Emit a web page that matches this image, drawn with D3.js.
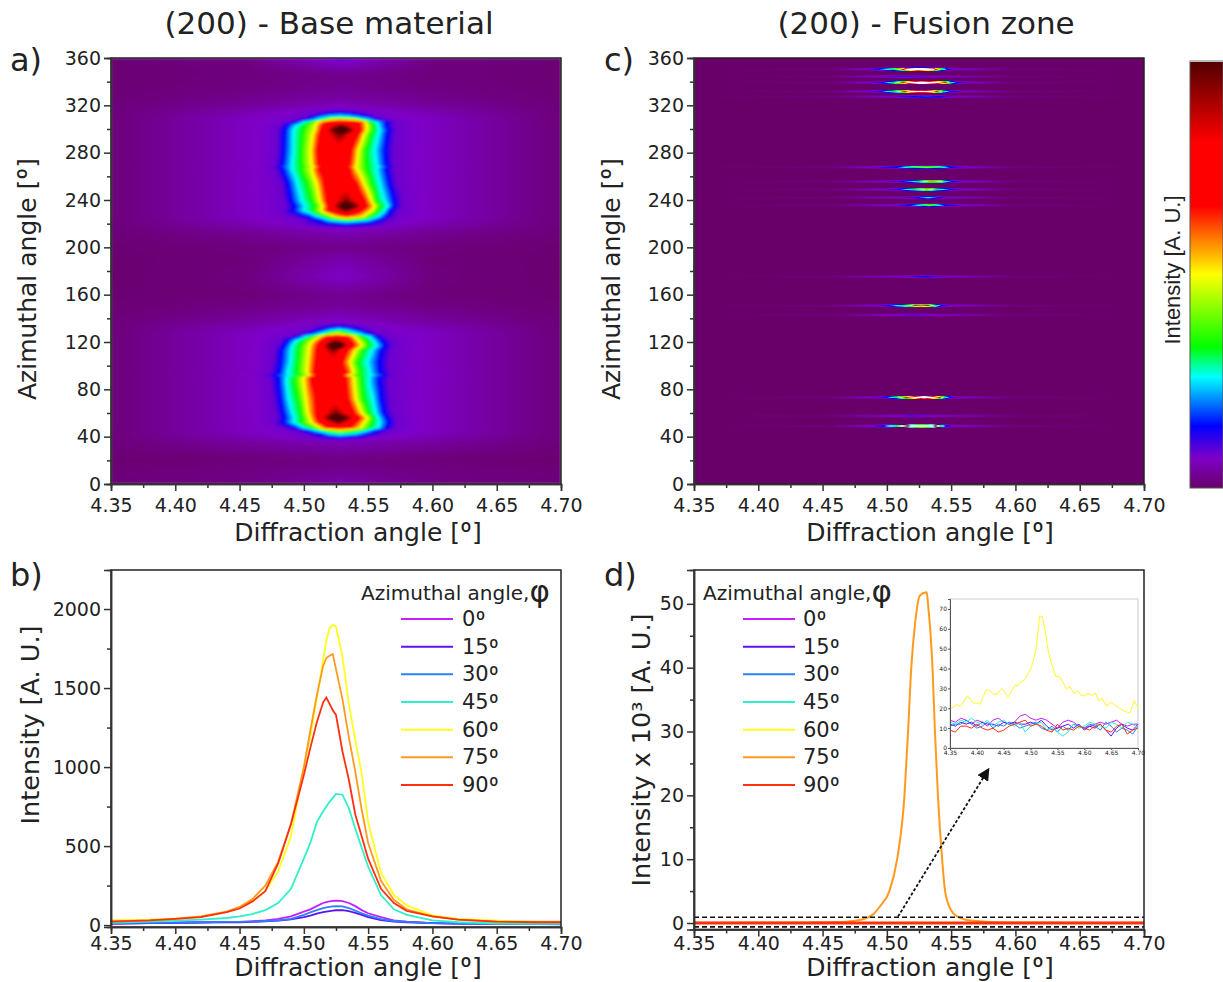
<!DOCTYPE html>
<html>
<head>
<meta charset="utf-8">
<script src="https://cdn.jsdelivr.net/npm/d3@7"></script>
<style>
  html, body { margin: 0; background: #fff; }
  svg { display: block; }
  text { font-family: "DejaVu Sans", Verdana, sans-serif; fill: #222; }
</style>
</head>
<body>
<svg id="fig" width="1223" height="982"></svg>
<script>
// axis ticks
var xMajor = [4.35, 4.40, 4.45, 4.50, 4.55, 4.60, 4.65, 4.70];
var xMinor = [4.375, 4.425, 4.475, 4.525, 4.575, 4.625, 4.675];
var azMajor = [0, 40, 80, 120, 160, 200, 240, 280, 320, 360];
var azMinor = [20, 60, 100, 140, 180, 220, 260, 300, 340];
var bMajor = [0, 500, 1000, 1500, 2000];
var bMinor = [250, 750, 1250, 1750];
var dMajor = [0, 10, 20, 30, 40, 50];
var dMinor = [5, 15, 25, 35, 45];
var insetMajor = [0, 10, 20, 30, 40, 50, 60, 70];

// colour bar stops
var barValues = [0, 0.07, 0.145, 0.26, 0.33, 0.5, 0.66, 0.81, 1];
var barColors = ['#690069', '#7f00c8', '#0000ff', '#00ffff', '#00ff00', '#ffff00', '#ff0000', '#ff0000', '#500000'];
// the fusion zone map saturates: its brightest pixels come out white
var hotValues = [0, 0.07, 0.145, 0.26, 0.33, 0.5, 0.66, 0.85, 1];
var hotColors = ['#690069', '#7f00c8', '#0000ff', '#00ffff', '#00ff00', '#ffff00', '#ff0000', '#ff9090', '#ffffff'];

// intensity levels whose crossing angles are read per azimuth row in the maps
var levels = [0.08, 0.145, 0.26, 0.33, 0.5, 0.66, 1];

// map a) rows: azimuth, edge, glow, peak, peak angle, left crossings, right crossings
var rowsA = [
  [0, .01, .02, .05, 4.53, [], []],
  [10, .012, .02, .03, 4.53, [], []],
  [20, .005, .012, .02, 4.53, [], []],
  [25, .008, .018, .03, 4.53, [], []],
  [30, .01, .03, .045, 4.53, [], []],
  [36, .012, .04, .06, 4.53, [], []],
  [38, .012, .05, .1, 4.528, [4.51], [4.545]],
  [40, .012, .055, .18, 4.528, [4.505, 4.52], [4.537, 4.552]],
  [42.5, .012, .06, .3, 4.528, [4.5, 4.512, 4.52], [4.54, 4.55, 4.562]],
  [45, .012, .065, .48, 4.528, [4.495, 4.503, 4.51, 4.516], [4.541, 4.549, 4.556, 4.565]],
  [47.5, .012, .065, .68, 4.527, [4.485, 4.493, 4.5, 4.506, 4.513, 4.518], [4.536, 4.544, 4.551, 4.558, 4.564, 4.571]],
  [52, .012, .065, .95, 4.527, [4.477, 4.484, 4.492, 4.498, 4.506, 4.512], [4.54, 4.547, 4.553, 4.559, 4.566, 4.572]],
  [56, .012, .065, 1.2, 4.526, [4.479, 4.485, 4.4925, 4.4985, 4.5045, 4.51], [4.5434, 4.5494, 4.5539, 4.558, 4.5644, 4.571]],
  [60, .012, .065, .95, 4.525, [4.478, 4.484, 4.491, 4.4975, 4.503, 4.5095], [4.539, 4.545, 4.55, 4.556, 4.562, 4.569]],
  [72, .012, .065, .74, 4.522, [4.476, 4.482, 4.488, 4.4955, 4.5015, 4.509], [4.5344, 4.5404, 4.5464, 4.5539, 4.5599, 4.567]],
  [86, .012, .065, .74, 4.5205, [4.474, 4.4805, 4.4865, 4.4925, 4.5, 4.506], [4.533, 4.5389, 4.5449, 4.5509, 4.5584, 4.566]],
  [90.5, .012, .065, .74, 4.5205, [4.474, 4.4805, 4.4865, 4.4925, 4.5, 4.506], [4.533, 4.5389, 4.5449, 4.5509, 4.5584, 4.566]],
  [92, .012, .07, .72, 4.5205, [4.468, 4.476, 4.49, 4.499, 4.505, 4.51], [4.53, 4.534, 4.5405, 4.553, 4.563, 4.57]],
  [93.5, .012, .065, .74, 4.5205, [4.474, 4.481, 4.487, 4.4945, 4.5025, 4.508], [4.5335, 4.5385, 4.5445, 4.5515, 4.559, 4.567]],
  [103, .012, .065, .74, 4.52, [4.476, 4.482, 4.4895, 4.4955, 4.503, 4.509], [4.53, 4.5359, 4.5419, 4.5494, 4.5584, 4.566]],
  [113, .012, .065, .95, 4.523, [4.477, 4.483, 4.49, 4.496, 4.504, 4.51], [4.534, 4.54, 4.546, 4.553, 4.56, 4.568]],
  [117, .012, .065, 1.2, 4.5254, [4.479, 4.485, 4.491, 4.497, 4.5045, 4.5105], [4.5389, 4.5449, 4.5509, 4.5569, 4.5629, 4.57]],
  [121, .012, .065, .95, 4.525, [4.482, 4.4875, 4.4935, 4.4995, 4.507, 4.513], [4.537, 4.5425, 4.549, 4.5545, 4.5605, 4.567]],
  [125, .012, .065, .67, 4.525, [4.491, 4.496, 4.502, 4.507, 4.513, 4.519], [4.533, 4.539, 4.5445, 4.551, 4.5565, 4.563]],
  [127, .012, .065, .5, 4.526, [4.498, 4.505, 4.512, 4.517], [4.535, 4.543, 4.55, 4.557]],
  [130, .012, .06, .3, 4.527, [4.504, 4.513, 4.522], [4.533, 4.543, 4.552]],
  [132, .012, .055, .19, 4.527, [4.508, 4.52], [4.535, 4.547]],
  [134.5, .012, .05, .1, 4.527, [4.515], [4.54]],
  [137, .012, .04, .07, 4.527, [], []],
  [142, .01, .033, .06, 4.527, [], []],
  [150, .008, .02, .035, 4.53, [], []],
  [160, .006, .012, .03, 4.53, [], []],
  [175, .005, .015, .07, 4.53, [], []],
  [190, .005, .012, .05, 4.53, [], []],
  [200, .006, .015, .025, 4.53, [], []],
  [210, .009, .028, .05, 4.53, [], []],
  [216, .012, .04, .07, 4.533, [], []],
  [218, .012, .05, .12, 4.533, [4.505], [4.56]],
  [220.5, .012, .055, .2, 4.533, [4.5, 4.518], [4.548, 4.564]],
  [223, .012, .06, .35, 4.533, [4.5, 4.512, 4.52, 4.53], [4.538, 4.549, 4.558, 4.566]],
  [226, .012, .065, .62, 4.533, [4.492, 4.503, 4.511, 4.517, 4.524], [4.546, 4.552, 4.558, 4.564, 4.571]],
  [231, .012, .065, .95, 4.533, [4.484, 4.492, 4.5, 4.507, 4.5135, 4.5185], [4.5449, 4.5527, 4.5578, 4.563, 4.5669, 4.574]],
  [235, .012, .065, 1.2, 4.5335, [4.486, 4.493, 4.501, 4.5086, 4.5146, 4.519], [4.549, 4.555, 4.56, 4.5656, 4.57, 4.577]],
  [239, .012, .065, .95, 4.533, [4.4845, 4.4905, 4.4983, 4.506, 4.5125, 4.5177], [4.5475, 4.5527, 4.5566, 4.563, 4.57, 4.576]],
  [254, .012, .065, .75, 4.5265, [4.4825, 4.4879, 4.4949, 4.5022, 4.5099, 4.5156], [4.541, 4.5467, 4.5527, 4.5591, 4.5664, 4.572]],
  [266.5, .012, .065, .74, 4.5245, [4.478, 4.4835, 4.4905, 4.4975, 4.506, 4.5112], [4.5358, 4.541, 4.5488, 4.5566, 4.5638, 4.57]],
  [268, .012, .068, .72, 4.5245, [4.475, 4.481, 4.491, 4.499, 4.508, 4.513], [4.534, 4.54, 4.55, 4.5585, 4.566, 4.572]],
  [269.5, .012, .065, .74, 4.5245, [4.478, 4.4835, 4.4905, 4.4975, 4.506, 4.5112], [4.5358, 4.541, 4.5488, 4.5566, 4.5638, 4.57]],
  [282, .012, .065, .74, 4.5245, [4.479, 4.4845, 4.4918, 4.4975, 4.5054, 4.5104], [4.5371, 4.5423, 4.5483, 4.5553, 4.563, 4.57]],
  [295, .012, .065, .95, 4.528, [4.479, 4.485, 4.4918, 4.4985, 4.507, 4.512], [4.542, 4.5465, 4.552, 4.558, 4.5645, 4.571]],
  [299, .012, .065, 1.2, 4.5295, [4.479, 4.4853, 4.4918, 4.4991, 4.5086, 4.5133], [4.5444, 4.5488, 4.554, 4.5591, 4.5656, 4.572]],
  [303, .012, .065, .95, 4.529, [4.482, 4.487, 4.494, 4.501, 4.5092, 4.5145], [4.5433, 4.549, 4.554, 4.558, 4.564, 4.57]],
  [306, .012, .065, .7, 4.528, [4.489, 4.4945, 4.5, 4.505, 4.511, 4.518], [4.5436, 4.5483, 4.5514, 4.5566, 4.5643, 4.571]],
  [308, .012, .065, .55, 4.528, [4.496, 4.503, 4.51, 4.515, 4.521], [4.5395, 4.545, 4.55, 4.556, 4.562]],
  [310.5, .012, .06, .28, 4.528, [4.503, 4.508, 4.52], [4.535, 4.548, 4.555]],
  [313, .012, .055, .17, 4.528, [4.508, 4.522], [4.535, 4.55]],
  [315.5, .012, .05, .09, 4.528, [4.515], [4.542]],
  [318, .012, .04, .07, 4.528, [], []],
  [325, .01, .028, .045, 4.53, [], []],
  [335, .008, .018, .03, 4.53, [], []],
  [345, .008, .015, .025, 4.53, [], []],
  [352, .008, .015, .05, 4.53, [], []],
  [360, .01, .02, .09, 4.53, [], []]
];

// map c) streaks: azimuth, peak, peak angle, left crossings, right crossings
var streaksC = [
  [49, 1.5, 4.527, [4.4893, 4.4971, 4.501, 4.5062, 4.5106, 4.5152, 4.5183], [4.536, 4.5385, 4.5406, 4.5424, 4.5442, 4.5463, 4.5515]],
  [57.5, .11, 4.52, [4.51], [4.532]],
  [73.2, 1.5, 4.529, [4.4919, 4.4997, 4.5036, 4.5075, 4.5113, 4.5152, 4.5217], [4.536, 4.5411, 4.543, 4.545, 4.5468, 4.5489, 4.5541]],
  [142.8, .1, 4.52, [4.508], [4.532]],
  [150.7, .78, 4.526, [4.4945, 4.5023, 4.5075, 4.5126, 4.5191, 4.5217], [4.532, 4.5346, 4.5385, 4.5398, 4.5424, 4.5489]],
  [175.2, .14, 4.531, [4.515], [4.543]],
  [235.6, .42, 4.533, [4.5076, 4.518, 4.5245, 4.5284], [4.5374, 4.5408, 4.5452, 4.5569]],
  [242, .27, 4.5323, [4.5154, 4.5245, 4.5315], [4.533, 4.54, 4.5465]],
  [248.9, .55, 4.53, [4.4999, 4.5103, 4.5154, 4.5206, 4.5297], [4.5336, 4.5387, 4.5439, 4.5491, 4.5582]],
  [255.6, .58, 4.5345, [4.5025, 4.5128, 4.5206, 4.5245, 4.5305], [4.5413, 4.5452, 4.547, 4.5504, 4.5595]],
  [267.7, .42, 4.531, [4.492, 4.5076, 4.5141, 4.5193], [4.5413, 4.5452, 4.5491, 4.5595]],
  [327.3, .17, 4.531, [4.5063, 4.5206], [4.54, 4.5491]],
  [331.7, 1.2, 4.5265, [4.486, 4.496, 4.4999, 4.505, 4.5103, 4.5141, 4.518], [4.5349, 4.5387, 4.5413, 4.5439, 4.5465, 4.5491, 4.558]],
  [339.2, 1.6, 4.527, [4.488, 4.4973, 4.5012, 4.505, 4.509, 4.5128, 4.5167], [4.54, 4.5452, 4.5478, 4.5491, 4.551, 4.5543, 4.561]],
  [344.3, .11, 4.5128, [4.4947], [4.53]],
  [350.5, 1.5, 4.5245, [4.486, 4.4934, 4.4999, 4.505, 4.51, 4.5128, 4.5154], [4.5362, 4.538, 4.5405, 4.543, 4.5452, 4.5465, 4.5515]]
];

// panel b) profiles
var phiNames = ['0º', '15º', '30º', '45º', '60º', '75º', '90º'];
var phiColors = ['#c81eff', '#5a14f0', '#2a80ff', '#2ff0c8', '#ffff1e', '#ff9a1e', '#ff3010'];
var bX = [4.35, 4.38, 4.40, 4.42, 4.44, 4.45, 4.46, 4.47, 4.48, 4.49, 4.50, 4.505, 4.51, 4.515, 4.5175, 4.52, 4.5225, 4.525, 4.53, 4.535, 4.54, 4.545, 4.55, 4.56, 4.57, 4.58, 4.60, 4.62, 4.65, 4.68, 4.70];
var b0 = [8, 12, 15, 18, 20, 20, 25, 30, 40, 55, 85, 100, 120, 140, 146, 150, 153, 155, 152, 140, 120, 95, 75, 50, 30, 22, 12, 10, 8, 6, 5];
var b15 = [10, 12, 15, 16, 18, 18, 20, 24, 28, 36, 50, 60, 72, 82, 85, 88, 91, 94, 95, 88, 78, 65, 50, 32, 22, 18, 12, 9, 8, 7, 8];
var b30 = [12, 14, 16, 18, 20, 20, 22, 26, 30, 40, 65, 80, 95, 108, 112, 115, 118, 120, 118, 108, 92, 75, 60, 38, 26, 20, 12, 10, 9, 9, 9];
var b45 = [15, 22, 28, 35, 45, 55, 70, 95, 140, 230, 420, 520, 650, 720, 750, 780, 805, 830, 825, 740, 610, 490, 370, 190, 100, 65, 30, 18, 10, 8, 8];
var b60 = [32, 35, 42, 55, 85, 110, 150, 215, 340, 560, 1000, 1190, 1430, 1680, 1800, 1880, 1900, 1890, 1700, 1400, 1170, 960, 650, 330, 190, 125, 62, 40, 28, 20, 20];
var b75 = [25, 30, 40, 55, 85, 115, 165, 250, 400, 640, 1000, 1230, 1450, 1640, 1690, 1705, 1715, 1620, 1430, 1190, 970, 730, 520, 280, 160, 100, 55, 35, 22, 22, 22];
var b90 = [22, 30, 40, 50, 82, 105, 150, 215, 390, 640, 950, 1120, 1280, 1410, 1440, 1400, 1360, 1330, 1100, 920, 700, 560, 420, 230, 140, 90, 55, 35, 22, 18, 18];

// panel d) main peak at 75º, in units of 10^3
var dX = [4.35, 4.40, 4.44, 4.46, 4.47, 4.48, 4.4866, 4.49, 4.495, 4.502, 4.508, 4.5137, 4.5165, 4.519, 4.522, 4.5257, 4.531, 4.532, 4.5355, 4.5374, 4.5397, 4.543, 4.5453, 4.55, 4.555, 4.56, 4.57, 4.58, 4.60, 4.65, 4.70];
var d75 = [.05, .07, .1, .15, .25, .5, 1, 1.5, 2.7, 5, 10, 20, 30, 40, 47, 51.3, 51.8, 50, 40, 30, 20, 10, 5, 2, 1, .6, .3, .15, .08, .05, .05];

// panel d) inset, same measurements before scaling by 10^3
var insetX = [4.35, 4.36, 4.37, 4.38, 4.39, 4.40, 4.41, 4.42, 4.43, 4.44, 4.45, 4.46, 4.47, 4.48, 4.49, 4.50, 4.51, 4.52, 4.53, 4.54, 4.55, 4.56, 4.57, 4.58, 4.59, 4.60, 4.61, 4.62, 4.63, 4.64, 4.65, 4.66, 4.67, 4.68, 4.69, 4.70];
var inset0 = [14, 13, 15, 14, 12, 14, 13, 11, 14, 15, 13, 12, 13, 16, 17, 15, 14, 15, 14, 12, 10, 13, 14, 13, 11, 10, 11, 12, 13, 12, 13, 14, 12, 11, 12, 12];
var inset15 = [12, 11, 13, 12, 13, 11, 13, 12, 12, 11, 13, 12, 13, 12, 12, 13, 12, 14, 11, 9, 10, 11, 12, 10, 12, 9, 11, 10, 12, 9, 6, 10, 12, 10, 9, 12];
var inset30 = [11, 12, 12, 14, 12, 10, 11, 13, 10, 12, 11, 13, 12, 10, 11, 12, 13, 10, 9, 11, 8, 11, 9, 12, 11, 10, 12, 11, 9, 13, 11, 8, 10, 9, 7, 11];
var inset45 = [13, 12, 14, 13, 15, 13, 12, 14, 11, 13, 14, 12, 11, 13, 8, 11, 12, 13, 9, 10, 8, 6, 8, 12, 10, 11, 13, 12, 11, 10, 13, 12, 10, 13, 12, 10];
var inset90 = [9, 8, 11, 11, 10, 12, 10, 9, 10, 8, 9, 11, 12, 13, 14, 11, 12, 11, 9, 8, 12, 9, 10, 9, 11, 10, 9, 11, 12, 9, 8, 11, 12, 7, 9, 10];
var inset60X = [4.35, 4.356, 4.362, 4.369, 4.375, 4.381, 4.387, 4.393, 4.4, 4.406, 4.412, 4.418, 4.424, 4.431, 4.437, 4.446, 4.452, 4.458, 4.465, 4.471, 4.477, 4.483, 4.489, 4.496, 4.502, 4.51, 4.517, 4.522, 4.527, 4.533, 4.539, 4.547, 4.554, 4.561, 4.567, 4.573, 4.581, 4.588, 4.595, 4.601, 4.607, 4.613, 4.621, 4.627, 4.634, 4.641, 4.65, 4.66, 4.666, 4.675, 4.685, 4.693, 4.70];
var inset60 = [19.6, 20.6, 22, 21, 23, 26, 25, 22.6, 22.6, 22, 26, 29.5, 29, 27, 27, 30, 28, 25.6, 29, 31.5, 31.5, 33.5, 34.4, 37.7, 41, 49.4, 66.5, 66, 59.5, 48.6, 42.7, 36, 35.7, 32.7, 29.6, 31, 27.3, 28.8, 26.3, 26.3, 27.6, 26.5, 27.6, 23.8, 24.8, 21, 23, 21, 20, 18.4, 17.6, 23.8, 20];

var svg = d3.select('#fig');
var colorA = d3.scaleLinear().domain(barValues).range(barColors).clamp(true);
var colorC = d3.scaleLinear().domain(hotValues).range(hotColors).clamp(true);

// one knot list per azimuth row -> scale from angle to intensity
function rowScale(r) {
  var n = r[5].length;
  var lv = levels.slice(0, n);
  var xs = [4.35, 4.455].concat(r[5], [r[4]], r[6], [4.60, 4.70]);
  var vs = [r[1], r[2]].concat(lv, [r[3]], lv.slice().reverse(), [r[2], r[1]]);
  return d3.scaleLinear().domain(xs).range(vs).clamp(true);
}

// paint a map into a canvas and hand it to the svg as an image
function drawMap(g, x, y, rows, color, blur) {
  var w = Math.round(x.range()[1] - x.range()[0]);
  var h = Math.round(y.range()[0] - y.range()[1]);
  var x0 = x.range()[0], y0 = y.range()[1];
  var canvas = document.createElement('canvas');
  canvas.width = w;
  canvas.height = h;
  var ctx = canvas.getContext('2d');
  var img = ctx.createImageData(w, h);

  var lut = d3.range(1001).map(function (i) { return d3.rgb(color(i / 1000)); });
  var azs = rows.map(function (r) { return r[0]; });
  var cols = rows.map(function (r) {
    var s = rowScale(r);
    return d3.range(w).map(function (i) { return s(x.invert(x0 + i + 0.5)); });
  });

  for (var j = 0; j < h; j++) {
    var az = y.invert(y0 + j + 0.5);
    var k = Math.min(Math.max(d3.bisectRight(azs, az), 1), azs.length - 1);
    var t = (az - azs[k - 1]) / (azs[k] - azs[k - 1]);
    for (var i = 0; i < w; i++) {
      var v = cols[k - 1][i] * (1 - t) + cols[k][i] * t;
      var c = lut[Math.min(1000, Math.max(0, Math.round(v * 1000)))];
      var p = (j * w + i) * 4;
      img.data[p] = c.r;
      img.data[p + 1] = c.g;
      img.data[p + 2] = c.b;
      img.data[p + 3] = 255;
    }
  }
  ctx.putImageData(img, 0, 0);

  g.append('image')
    .attr('x', x0).attr('y', y0)
    .attr('width', w).attr('height', h)
    .attr('preserveAspectRatio', 'none')
    .attr('filter', 'url(#' + blur + ')')
    .attr('href', canvas.toDataURL());
}

function drawAxes(g, x, y, yMajor, yMinor, xPad) {
  var h = y.range()[0];
  var left = x.range()[0];

  g.append('rect')
    .attr('x', left).attr('y', y.range()[1])
    .attr('width', x.range()[1] - left).attr('height', h - y.range()[1])
    .attr('fill', 'none').attr('stroke', '#222').attr('stroke-width', 1.5);

  var bottom = g.append('g').attr('transform', 'translate(0,' + h + ')');
  bottom.call(d3.axisBottom(x).tickValues(xMajor).tickSize(7).tickPadding(xPad).tickFormat(d3.format('.2f')));
  var bottomMinor = g.append('g').attr('transform', 'translate(0,' + h + ')');
  bottomMinor.call(d3.axisBottom(x).tickValues(xMinor).tickSize(4).tickFormat(''));

  var leftAxis = g.append('g').attr('transform', 'translate(' + left + ',0)');
  leftAxis.call(d3.axisLeft(y).tickValues(yMajor).tickSize(7).tickPadding(3).tickFormat(d3.format('d')));
  var leftMinor = g.append('g').attr('transform', 'translate(' + left + ',0)');
  leftMinor.call(d3.axisLeft(y).tickValues(yMinor).tickSize(4).tickFormat(''));

  g.selectAll('.domain').attr('stroke', '#333').attr('stroke-width', 1.5);
  g.selectAll('.tick line').attr('stroke', '#333').attr('stroke-width', 1.5);
  g.selectAll('.tick text').attr('font-size', 19).attr('font-family', '"DejaVu Sans", Verdana, sans-serif').attr('fill', '#222');
}

function label(txt, x, y, size, rotate, anchor) {
  return svg.append('text')
    .attr('transform', 'translate(' + x + ',' + y + ')' + (rotate ? ' rotate(-90)' : ''))
    .attr('text-anchor', anchor || 'middle')
    .attr('dominant-baseline', 'central')
    .attr('font-size', size)
    .text(txt);
}

// same, but the degree sign comes from a face that draws it without the bar
function degLabel(txt, x, y, size, rotate, anchor) {
  var parts = txt.split('º');
  var t = label(parts[0], x, y, size, rotate, anchor);
  t.append('tspan')
    .attr('font-size', size * 1.05)
    .style('font-family', 'Roboto, "Open Sans", sans-serif')
    .text('º');
  if (parts[1]) t.append('tspan').text(parts[1]);
  return t;
}

function drawLegend(titleX, lineX, textX) {
  var phiY = d3.scalePoint().domain(phiNames).range([619, 785]);
  var t = label('Azimuthal angle,', titleX, 593, 20, false, 'start');
  t.append('tspan').attr('font-size', 31).attr('dy', -2).text('φ');
  phiNames.forEach(function (name, i) {
    svg.append('line')
      .attr('x1', lineX).attr('x2', lineX + 52)
      .attr('y1', phiY(name)).attr('y2', phiY(name))
      .attr('stroke', phiColors[i]).attr('stroke-width', 2);
    degLabel(name, textX, phiY(name), 21, false, 'start');
  });
}

var defs = svg.append('defs');
[['soft', 0.8], ['softer', 0.45]].forEach(function (f) {
  defs.append('filter').attr('id', f[0])
    .attr('x', 0).attr('y', 0).attr('width', 1).attr('height', 1)
    .append('feGaussianBlur').attr('stdDeviation', f[1]);
});

// titles and panel letters
label('(200) - Base material', 329, 23, 31);
label('(200) - Fusion zone', 926, 23, 31);
label('a)', 10, 60, 32, false, 'start');
label('c)', 604, 60, 32, false, 'start');
label('b)', 10, 575, 32, false, 'start');
label('d)', 604, 575, 32, false, 'start');

// a) base material map
var xA = d3.scaleLinear().domain([4.35, 4.70]).range([111, 561]);
var yA = d3.scaleLinear().domain([0, 360]).range([484, 58]);
var gA = svg.append('g');
drawMap(gA, xA, yA, rowsA, colorA, 'soft');
drawAxes(gA, xA, yA, azMajor, azMinor, 8);
degLabel('Diffraction angle [º]', 358, 532, 25);
degLabel('Azimuthal angle [º]', 27, 279, 25, true);

// c) fusion zone map, streaks sit on a flat background
var rowsC = [[0, 0, 0, 0, 4.53, [], []]];
streaksC.forEach(function (s) {
  rowsC.push([s[0] - 1.6, 0, 0, 0, 4.53, [], []]);
  rowsC.push([s[0] - 0.3, 0, .012, s[1], s[2], s[3], s[4]]);
  rowsC.push([s[0] + 0.3, 0, .012, s[1], s[2], s[3], s[4]]);
  rowsC.push([s[0] + 1.6, 0, 0, 0, 4.53, [], []]);
});
rowsC.push([360, 0, 0, 0, 4.53, [], []]);
var xC = d3.scaleLinear().domain([4.35, 4.70]).range([694, 1144]);
var yC = d3.scaleLinear().domain([0, 360]).range([484, 58]);
var gC = svg.append('g');
drawMap(gC, xC, yC, rowsC, colorC, 'softer');
drawAxes(gC, xC, yC, azMajor, azMinor, 8);
degLabel('Diffraction angle [º]', 930, 532, 25);
degLabel('Azimuthal angle [º]', 611, 279, 25, true);

// colour bar
var barY = d3.scaleLinear().domain([0, 1]).range([488, 61]);
var grad = defs.append('linearGradient').attr('id', 'bar')
  .attr('x1', 0).attr('x2', 0).attr('y1', 1).attr('y2', 0);
barValues.forEach(function (v, i) {
  grad.append('stop').attr('offset', v).attr('stop-color', barColors[i]);
});
svg.append('rect')
  .attr('x', 1190).attr('y', barY(1))
  .attr('width', 33).attr('height', barY(0) - barY(1))
  .attr('fill', 'url(#bar)').attr('stroke', '#555').attr('stroke-width', 1);
svg.append('line')
  .attr('x1', 1190).attr('x2', 1223)
  .attr('y1', barY(1)).attr('y2', barY(1))
  .attr('stroke', '#bbb').attr('stroke-width', 2);
label('Intensity [A. U.]', 1172, 270, 22, true)
  .style('font-family', '"Liberation Sans", Arial, sans-serif');

// b) intensity profiles
var xB = d3.scaleLinear().domain([4.35, 4.70]).range([111, 561]);
var yB = d3.scaleLinear().domain([-12, 2247]).range([927, 570]);
var gB = svg.append('g');
var lineB = d3.line()
  .x(function (d) { return xB(d[0]); })
  .y(function (d) { return yB(d[1]); });
[b0, b15, b30, b45, b60, b75, b90].forEach(function (vals, i) {
  gB.append('path')
    .datum(d3.zip(bX, vals))
    .attr('d', lineB)
    .attr('fill', 'none')
    .attr('stroke', phiColors[i])
    .attr('stroke-width', 1.8);
});
drawAxes(gB, xB, yB, bMajor, bMinor, 3);
degLabel('Diffraction angle [º]', 358, 967, 25);
label('Intensity [A. U.]', 30, 725, 25.5, true);
drawLegend(361, 401, 462);

// d) intensity profiles at fusion zone
var xD = d3.scaleLinear().domain([4.35, 4.70]).range([694, 1144]);
var yD = d3.scaleLinear().domain([-1, 55.3]).range([929.4, 570]);
var gD = svg.append('g');
var lineD = d3.line()
  .x(function (d) { return xD(d[0]); })
  .y(function (d) { return yD(d[1]); });
function scaled(vals) { return vals.map(function (v) { return v / 1000; }); }
var lowSeries = [[insetX, inset0], [insetX, inset15], [insetX, inset30], [insetX, inset45], [inset60X, inset60]];
lowSeries.forEach(function (s, i) {
  gD.append('path')
    .datum(d3.zip(s[0], scaled(s[1])))
    .attr('d', lineD)
    .attr('fill', 'none')
    .attr('stroke', phiColors[i])
    .attr('stroke-width', 2);
});
gD.append('path')
  .datum(d3.zip(dX, d75))
  .attr('d', d3.line().curve(d3.curveMonotoneX)
    .x(function (d) { return xD(d[0]); })
    .y(function (d) { return yD(d[1]); }))
  .attr('fill', 'none')
  .attr('stroke', phiColors[5])
  .attr('stroke-width', 2);
gD.append('path')
  .datum(d3.zip(insetX, scaled(inset90)))
  .attr('d', lineD)
  .attr('fill', 'none')
  .attr('stroke', phiColors[6])
  .attr('stroke-width', 3);

// dashed box around the baseline and arrow to the inset
[0.9, -0.6].forEach(function (v) {
  gD.append('line')
    .attr('x1', xD(4.35)).attr('x2', xD(4.70))
    .attr('y1', yD(v)).attr('y2', yD(v))
    .attr('stroke', '#111').attr('stroke-width', 1.6).attr('stroke-dasharray', '5 3');
});
defs.append('marker').attr('id', 'arrow')
  .attr('viewBox', '0 0 10 10').attr('refX', 8).attr('refY', 5)
  .attr('markerWidth', 7).attr('markerHeight', 7).attr('orient', 'auto')
  .append('path').attr('d', 'M0,0 L10,5 L0,10 Z').attr('fill', '#111');
gD.append('line')
  .attr('x1', xD(4.5087)).attr('y1', yD(1))
  .attr('x2', xD(4.5787)).attr('y2', yD(24))
  .attr('stroke', '#111').attr('stroke-width', 1.8)
  .attr('stroke-dasharray', '3 2')
  .attr('marker-end', 'url(#arrow)');

drawAxes(gD, xD, yD, dMajor, dMinor, 0.5);
degLabel('Diffraction angle [º]', 930, 967, 25);
label('Intensity x 10³ [A. U.]', 641, 750, 25.5, true);
drawLegend(703, 743, 803);

// inset
var xI = d3.scaleLinear().domain([4.35, 4.70]).range([950, 1138]);
var yI = d3.scaleLinear().domain([0, 75]).range([748, 599]);
var gI = svg.append('g');
gI.append('rect')
  .attr('x', 950).attr('y', 599).attr('width', 188).attr('height', 149)
  .attr('fill', '#fff').attr('stroke', '#ccc').attr('stroke-width', 1);
var lineI = d3.line()
  .x(function (d) { return xI(d[0]); })
  .y(function (d) { return yI(d[1]); });
[[insetX, inset0, 0], [insetX, inset15, 1], [insetX, inset30, 2], [insetX, inset45, 3], [inset60X, inset60, 4], [insetX, inset90, 6]].forEach(function (s) {
  gI.append('path')
    .datum(d3.zip(s[0], s[1]))
    .attr('d', lineI)
    .attr('fill', 'none')
    .attr('stroke', phiColors[s[2]])
    .attr('stroke-width', 1);
});
var insetBottom = gI.append('g').attr('transform', 'translate(0,748)');
insetBottom.call(d3.axisBottom(xI).tickValues(xMajor).tickSize(2).tickPadding(1).tickFormat(d3.format('.2f')));
var insetLeft = gI.append('g').attr('transform', 'translate(950,0)');
insetLeft.call(d3.axisLeft(yI).tickValues(insetMajor).tickSize(2).tickPadding(1).tickFormat(d3.format('d')));
gI.selectAll('.tick text').attr('font-size', 6).attr('fill', '#666').attr('font-family', '"DejaVu Sans", Verdana, sans-serif');
gI.selectAll('.domain').attr('stroke', '#555');
gI.selectAll('.tick line').attr('stroke', '#555');
</script>
</body>
</html>
